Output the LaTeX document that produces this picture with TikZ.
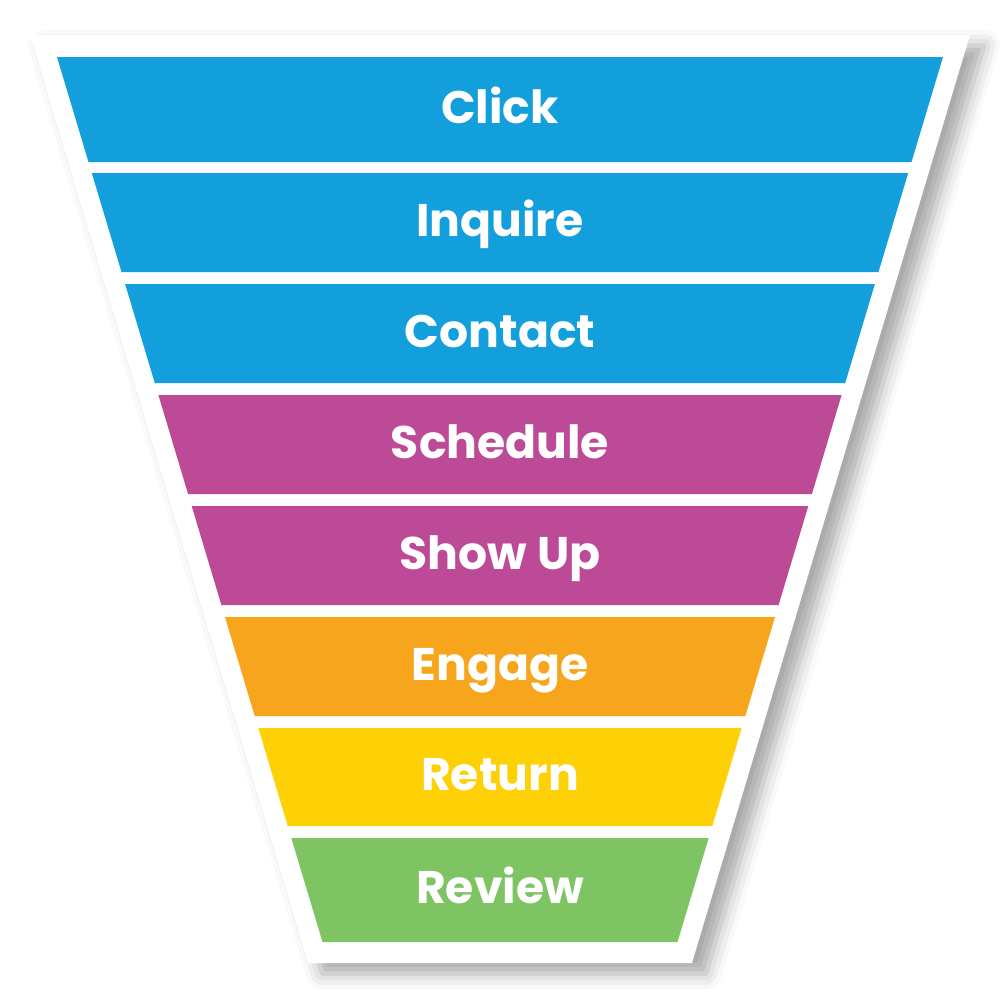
\documentclass[tikz,border=0pt]{standalone}
\usepackage{fontspec}
\setmainfont{Poppins}
\usetikzlibrary{shadows.blur}

\definecolor{funnelblue}{HTML}{139FDB}
\definecolor{funnelpink}{HTML}{BD4A97}
\definecolor{funnelorange}{HTML}{F7A51C}
\definecolor{funnelyellow}{HTML}{FED006}
\definecolor{funnelgreen}{HTML}{7EC462}

\tikzset{
  outer/.style={fill=white, blur shadow={shadow xshift=4pt, shadow yshift=-3pt,
      shadow blur radius=4.5pt, shadow opacity=35}},
  bandlabel/.style={text=white, anchor=mid, font=\bfseries\fontsize{13}{15}\selectfont}
}

\begin{document}
\begin{tikzpicture}[x=0.1mm,y=-0.1mm]
  \useasboundingbox (0,0) rectangle (1000,1000);

  % white funnel body
  \path[outer] (30,35) -- (970,35) -- (692,963) -- (308,963) -- cycle;

  % bands
  \foreach \top/\bot/\col/\name/\txt in {
      57/162/funnelblue/click/Click,
      173/272/funnelblue/inquire/Inquire,
      284/383/funnelblue/contact/Contact,
      395/494/funnelpink/schedule/Schedule,
      506/605/funnelpink/showup/Show Up,
      617/716/funnelorange/engage/Engage,
      728/826/funnelyellow/return/Return,
      838/942/funnelgreen/review/Review}{
    \fill[\col] ({57+0.3*(\top-57)},\top) -- ({943-0.3*(\top-57)},\top)
      -- ({943-0.3*(\bot-57)},\bot) -- ({57+0.3*(\bot-57)},\bot) -- cycle;
    \node[bandlabel] (\name) at (500,{(\top+\bot)/2+4}) {\txt};
  }
\end{tikzpicture}
\end{document}
